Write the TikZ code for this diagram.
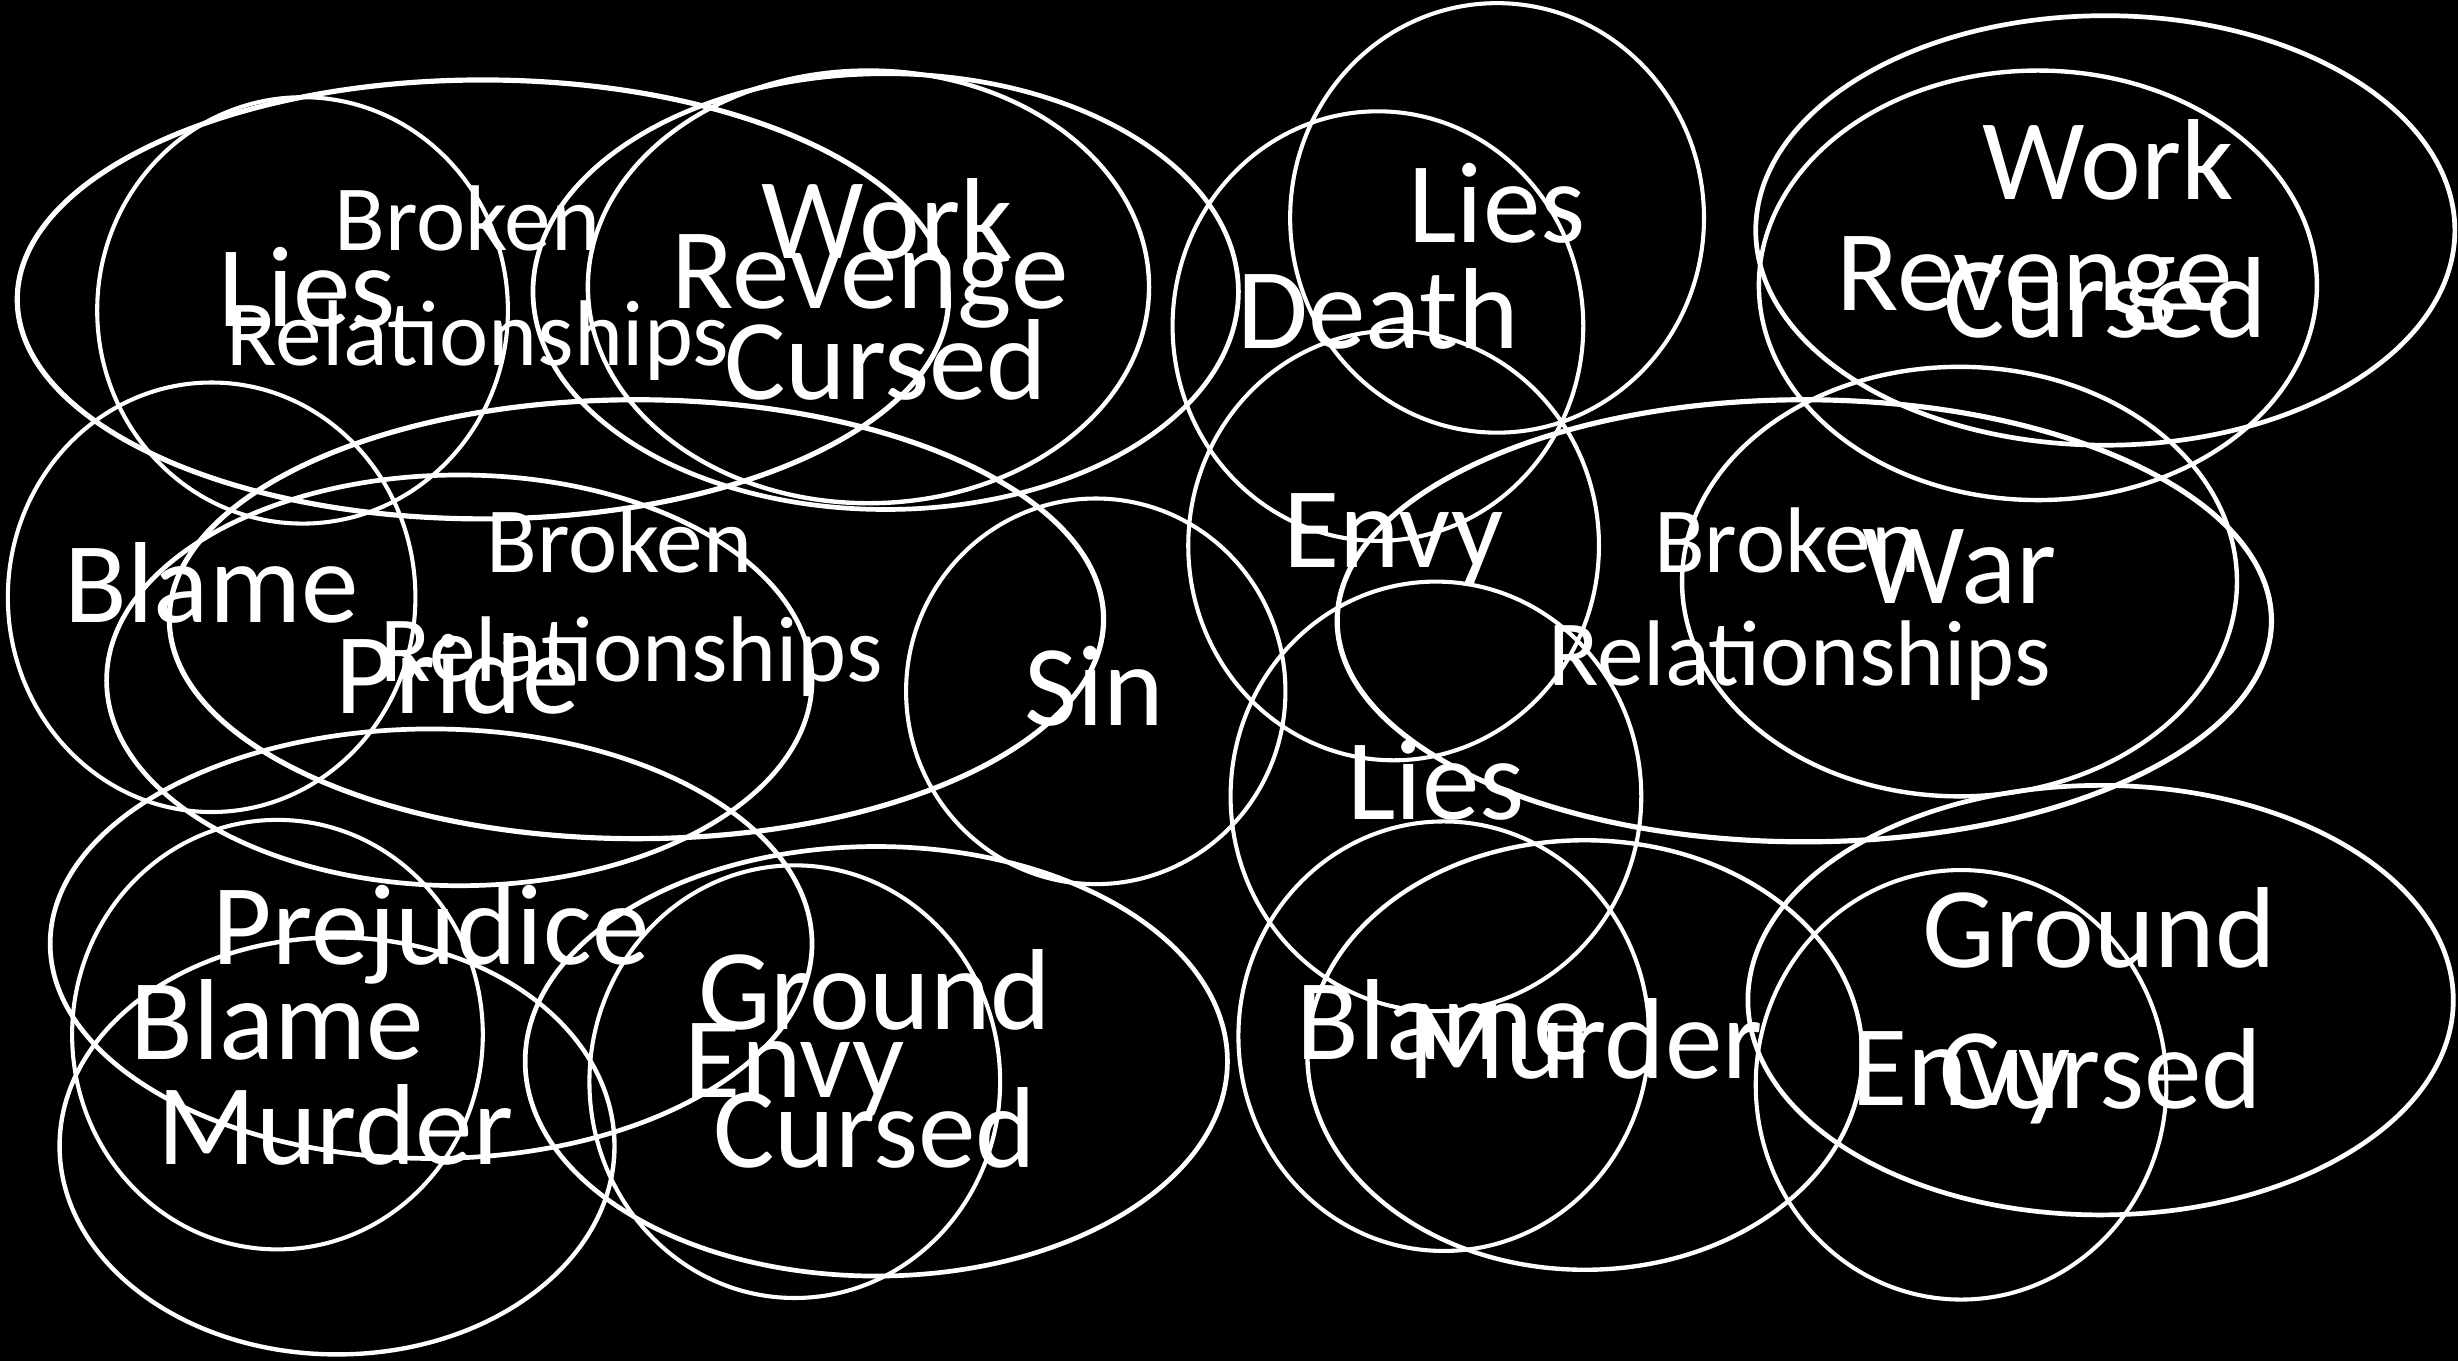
\documentclass[tikz,border=0pt]{standalone}
\usepackage{fontspec}
\setmainfont{Carlito}
\begin{document}
\begin{tikzpicture}[x=1pt,y=-1pt,
  ring/.style={draw=white,line width=2.6pt},
  ringm/.style={draw=white,line width=2.8pt},
  ringl/.style={draw=white,line width=3.0pt},
  ringxl/.style={draw=white,line width=3.3pt},
  big/.style={text=white,font=\fontsize{73.5}{80}\selectfont,anchor=base,inner sep=0pt},
  small/.style={text=white,font=\fontsize{59.5}{64}\selectfont,anchor=base,inner sep=0pt}]
\fill[black] (0,0) rectangle (1568,868.06);
\useasboundingbox (0,0) rectangle (1568,868.06);
% top-left cluster
\draw[ringxl] (308,191) ellipse [x radius=297pt, y radius=140pt];
\draw[ring] (193,198) ellipse [x radius=131pt, y radius=136pt];
\draw[ringl] (565,186) ellipse [x radius=225pt, y radius=139pt];
\draw[ringm] (554,183) ellipse [x radius=179pt, y radius=138pt];
% middle-left
\draw[ring] (135,381) ellipse [x radius=130pt, y radius=137pt];
\draw[ringxl] (406,395) ellipse [x radius=298pt, y radius=140pt];
\draw[ringl] (293,434) ellipse [x radius=225pt, y radius=131pt];
\draw[ring] (699,441) ellipse [x radius=121pt, y radius=123pt];
% bottom-left
\draw[ringl] (275,602) ellipse [x radius=243pt, y radius=137pt];
\draw[ring] (177,660) ellipse [x radius=131pt, y radius=137pt];
\draw[ringm] (215,731) ellipse [x radius=177pt, y radius=133pt];
\draw[ringl] (559,677) ellipse [x radius=224pt, y radius=137pt];
\draw[ring] (507,690) ellipse [x radius=131pt, y radius=138pt];
% top-right
\draw[ring] (955,139) ellipse [x radius=132pt, y radius=137pt];
\draw[ring] (879,208) ellipse [x radius=131pt, y radius=137pt];
\draw[ring] (889,348) ellipse [x radius=131pt, y radius=137pt];
\draw[ringxl] (1151,396) ellipse [x radius=298pt, y radius=141pt];
\draw[ringm] (1250,371) ellipse [x radius=177pt, y radius=137pt];
\draw[ring] (916,508) ellipse [x radius=131pt, y radius=137pt];
\draw[ringl] (1343,147) ellipse [x radius=223pt, y radius=137pt];
\draw[ringm] (1300,182) ellipse [x radius=178pt, y radius=137pt];
% bottom-right
\draw[ring] (921,661) ellipse [x radius=131pt, y radius=137pt];
\draw[ringm] (1011,673) ellipse [x radius=177pt, y radius=137pt];
\draw[ringl] (1340,638) ellipse [x radius=225pt, y radius=137pt];
\draw[ring] (1251,692) ellipse [x radius=131pt, y radius=137pt];
% texts top-left
\node[small] (tlbroken) at (298,160) {Broken};
\node[big] (tllies) at (196,208) {Lies};
\node[small] (tlrel) at (305,233) {Relationships};
\node[big] (tlwork) at (566,165) {Work};
\node[big] (tlrev) at (555,197) {Revenge};
\node[big] (tlcursed) at (565,255) {Cursed};
% middle-left
\node[big] (mlblame) at (135,397) {Blame};
\node[small] (mlbroken) at (395,365) {Broken};
\node[small] (mlrel) at (403,435) {Relationships};
\node[big] (mlpride) at (292,455) {Pride};
\node[big] (mlsin) at (698,463) {Sin};
% bottom-left
\node[big] (blprej) at (275,615) {Prejudice};
\node[big] (blblame) at (177,676) {Blame};
\node[big] (blmurder) at (214,743) {Murder};
\node[big] (blground) at (558,657) {Ground};
\node[big] (blenvy) at (507,700) {Envy};
\node[big] (blcursed) at (558,745) {Cursed};
% top-right
\node[big] (trlies) at (955,155) {Lies};
\node[big] (trdeath) at (879,222) {Death};
\node[big] (trenvy) at (889,362) {Envy};
\node[small] (trbroken) at (1140,365) {Broken};
\node[big] (trwar) at (1250,385) {War};
\node[small] (trrel) at (1148,437) {Relationships};
\node[big] (trlies2) at (916,523) {Lies};
\node[big] (trwork) at (1345,127) {Work};
\node[big] (trrev) at (1298,198) {Revenge};
\node[big] (trcursed) at (1343,215) {Cursed};
% bottom-right
\node[big] (brblame) at (921,676) {Blame};
\node[big] (brmurder) at (1011,688) {Murder};
\node[big] (brground) at (1339,617) {Ground};
\node[big] (brenvy) at (1251,705) {Envy};
\node[big] (brcursed) at (1340,707) {Cursed};
\end{tikzpicture}
\end{document}
